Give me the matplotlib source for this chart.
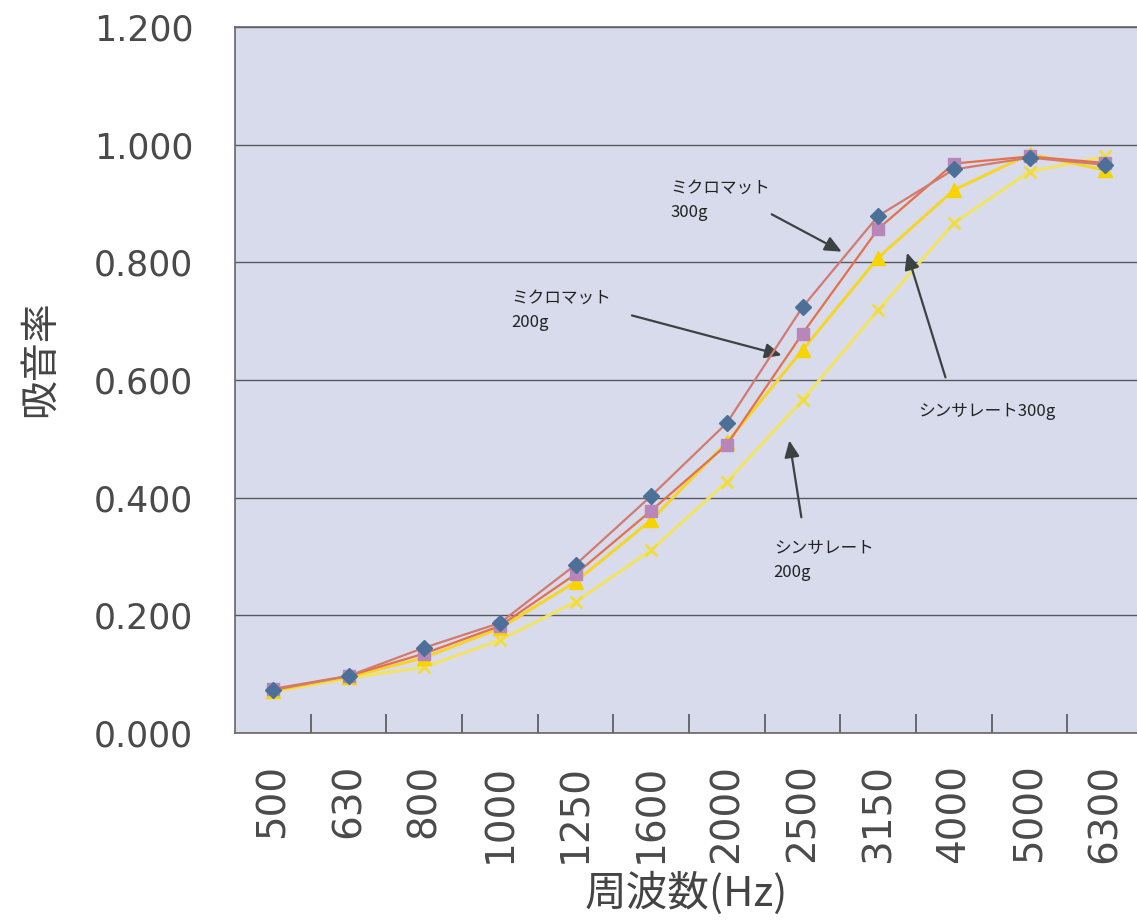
import matplotlib
matplotlib.use("Agg")
import matplotlib.pyplot as plt
import numpy as np

# 周波数 categories (Hz)
freqs = ["500", "630", "800", "1000", "1250", "1600", "2000", "2500", "3150", "4000", "5000", "6300"]

# absorption coefficient per material
micromat_300 = [0.073, 0.097, 0.145, 0.187, 0.286, 0.403, 0.527, 0.724, 0.879, 0.958, 0.978, 0.966]
micromat_200 = [0.075, 0.097, 0.135, 0.182, 0.270, 0.378, 0.490, 0.679, 0.857, 0.968, 0.980, 0.969]
thinsulate_300 = [0.072, 0.095, 0.128, 0.178, 0.257, 0.362, 0.494, 0.651, 0.808, 0.923, 0.984, 0.957]
thinsulate_200 = [0.070, 0.093, 0.112, 0.158, 0.223, 0.311, 0.427, 0.566, 0.719, 0.867, 0.954, 0.980]

jp = ["Noto Sans CJK JP", "DejaVu Sans"]
num = "DejaVu Sans"

fig = plt.figure(figsize=(11.37, 9.24), dpi=100)
ax = fig.add_axes([0.2067, 0.2067, 0.7986, 0.764])
ax.set_facecolor("#d8dbeb")

x = np.arange(len(freqs))

ax.plot(x, thinsulate_200, color="#f2e462", lw=2.2, marker="x", ms=8, mew=2,
        mec="#f0dc40", zorder=3)
ax.plot(x, thinsulate_300, color="#f5d52a", lw=2.2, marker="^", ms=10,
        mfc="#f7d400", mec="#f7d400", zorder=4)
ax.plot(x, micromat_200, color="#e2714e", lw=1.6, marker="s", ms=9,
        mfc="#b886b8", mec="#b886b8", zorder=5)
ax.plot(x, micromat_300, color="#d27a70", lw=1.6, marker="D", ms=8,
        mfc="#4d7099", mec="#4d7099", zorder=6)

ax.set_xlim(-0.5, len(freqs) - 0.5)
ax.set_ylim(0, 1.2)
yt = np.arange(0, 1.201, 0.2)
ax.set_yticks(yt)
ax.set_yticklabels([f"{v:.3f}" for v in yt], family=num, fontsize=25, color="#4a4a4a")
ax.yaxis.grid(True, color="#555a60", lw=1.0)
ax.set_axisbelow(True)
ax.tick_params(axis="y", length=0, pad=30)

ax.set_xticks(x)
ax.set_xticklabels(freqs, rotation=90, family=num, fontsize=28, color="#4a4a4a")
ax.tick_params(axis="x", which="major", length=0, pad=22)
ax.set_xticks(np.arange(0.5, len(freqs) - 0.5, 1), minor=True)
ax.tick_params(axis="x", which="minor", direction="in", length=14, color="#555555", width=1.2)

for side in ["left", "bottom", "top"]:
    ax.spines[side].set_color("#666666")
    ax.spines[side].set_linewidth(1.2)
ax.spines["right"].set_visible(False)

ax.set_xlabel("周波数(Hz)", family=jp, fontsize=30, color="#444444", va="center")
ax.xaxis.set_label_coords(0.497, -0.2266)
ax.set_ylabel("吸音率", family=jp, fontsize=28, color="#444444", va="center")
ax.yaxis.set_label_coords(-0.215, 0.53)

arrow = dict(arrowstyle="-|>,head_length=1.0,head_width=0.45", color="#3a4242", lw=1.6)
txt = dict(family=jp, fontsize=12, color="#222222", va="center", linespacing=1.55)

ax.text(5.26, 0.905, "ミクロマット\n300g", ha="left", **txt)
ax.annotate("", xy=(7.55, 0.816), xytext=(6.56, 0.884), arrowprops=arrow)

ax.text(3.15, 0.719, "ミクロマット\n200g", ha="left", **txt)
ax.annotate("", xy=(6.76, 0.641), xytext=(4.71, 0.711), arrowprops=arrow)

ax.text(9.44, 0.546, "シンサレート300g", ha="center", **txt)
ax.annotate("", xy=(8.37, 0.821), xytext=(8.9, 0.600), arrowprops=arrow)

ax.text(6.62, 0.294, "シンサレート\n200g", ha="left", **txt)
ax.annotate("", xy=(6.82, 0.502), xytext=(6.99, 0.362), arrowprops=arrow)

fig.savefig("out.png", dpi=100)
